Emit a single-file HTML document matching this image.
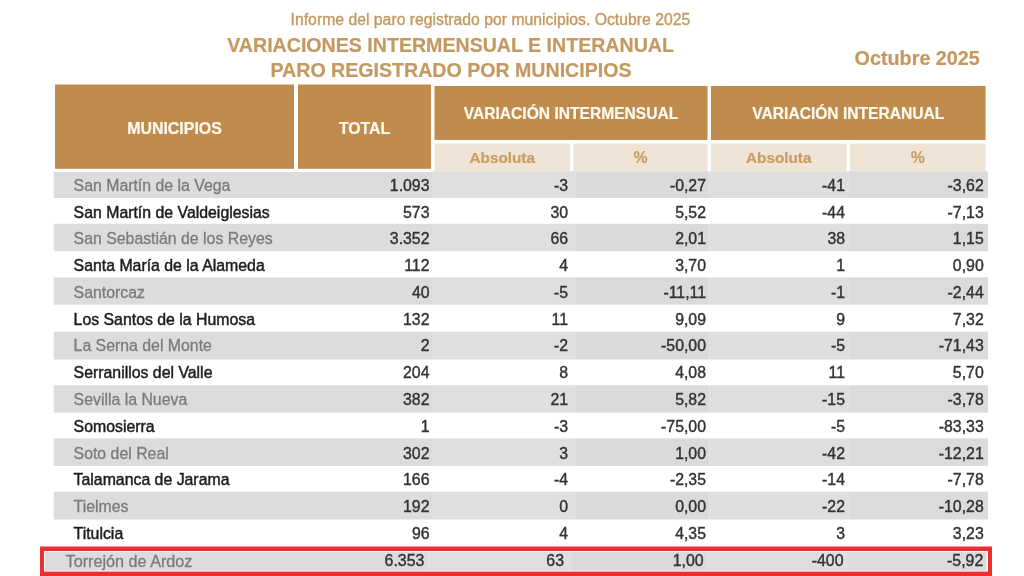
<!DOCTYPE html>
<html><head><meta charset="utf-8"><title>Paro registrado</title>
<style>
html,body{margin:0;padding:0;background:#fff;}
body{width:1024px;height:576px;position:relative;overflow:hidden;font-family:"Liberation Sans",sans-serif;}
.a{position:absolute;white-space:nowrap;}
.b{position:absolute;}
.h{color:#fffaf0;-webkit-text-stroke:0.2px #fffaf0;font-weight:bold;font-size:15.6px;text-align:center;}
.s{color:#c99c66;-webkit-text-stroke:0.2px #c99c66;font-weight:bold;font-size:15.3px;text-align:center;}
.t{color:#c4985f;-webkit-text-stroke:0.2px #c4985f;font-weight:bold;font-size:19.6px;text-align:center;line-height:25px;}
.n{font-size:15.85px;line-height:20px;height:20px;}
.r{text-align:right;color:#333;-webkit-text-stroke:0.4px #333;}
.g{color:#7b7b7b;-webkit-text-stroke:0.3px #7b7b7b;}
.k{color:#1c1c1c;-webkit-text-stroke:0.45px #1c1c1c;}
</style></head><body><div id="w" style="position:absolute;left:0;top:0;width:1024px;height:600px;filter:blur(0.45px);">

<svg class="b" style="left:0;top:0" width="1024" height="600" viewBox="0 0 1024 600"><rect x="55" y="84.5" width="239" height="84.3" fill="#c08c4d"/><rect x="298" y="84.5" width="133" height="84.3" fill="#c08c4d"/><rect x="434.5" y="86" width="273" height="54" fill="#c08c4d"/><rect x="711" y="86" width="274.6" height="54" fill="#c08c4d"/><rect x="434.5" y="143.6" width="135.5" height="27.7" fill="#f0e4d6"/><rect x="573.5" y="143.6" width="134" height="27.7" fill="#f0e4d6"/><rect x="711" y="143.6" width="135.5" height="27.7" fill="#f0e4d6"/><rect x="850" y="143.6" width="135.6" height="27.7" fill="#f0e4d6"/><rect x="53.8" y="171.9" width="378.2" height="26.1" fill="#dcdcdc"/><rect x="432" y="171.3" width="143.3" height="26.7" fill="#dfdfdf"/><rect x="575.3" y="171.3" width="134.3" height="26.7" fill="#dadada"/><rect x="709.6" y="171.3" width="138.6" height="26.7" fill="#dedede"/><rect x="848.2" y="171.3" width="139.8" height="26.7" fill="#dbdbdb"/><rect x="53.8" y="223.8" width="378.2" height="27.4" fill="#dcdcdc"/><rect x="432" y="223.8" width="143.3" height="27.4" fill="#dfdfdf"/><rect x="575.3" y="223.8" width="134.3" height="27.4" fill="#dadada"/><rect x="709.6" y="223.8" width="138.6" height="27.4" fill="#dedede"/><rect x="848.2" y="223.8" width="139.8" height="27.4" fill="#dbdbdb"/><rect x="53.8" y="277.3" width="378.2" height="27.4" fill="#dcdcdc"/><rect x="432" y="277.3" width="143.3" height="27.4" fill="#dfdfdf"/><rect x="575.3" y="277.3" width="134.3" height="27.4" fill="#dadada"/><rect x="709.6" y="277.3" width="138.6" height="27.4" fill="#dedede"/><rect x="848.2" y="277.3" width="139.8" height="27.4" fill="#dbdbdb"/><rect x="53.8" y="331.7" width="378.2" height="27.8" fill="#dcdcdc"/><rect x="432" y="331.7" width="143.3" height="27.8" fill="#dfdfdf"/><rect x="575.3" y="331.7" width="134.3" height="27.8" fill="#dadada"/><rect x="709.6" y="331.7" width="138.6" height="27.8" fill="#dedede"/><rect x="848.2" y="331.7" width="139.8" height="27.8" fill="#dbdbdb"/><rect x="53.8" y="385.3" width="378.2" height="27.4" fill="#dcdcdc"/><rect x="432" y="385.3" width="143.3" height="27.4" fill="#dfdfdf"/><rect x="575.3" y="385.3" width="134.3" height="27.4" fill="#dadada"/><rect x="709.6" y="385.3" width="138.6" height="27.4" fill="#dedede"/><rect x="848.2" y="385.3" width="139.8" height="27.4" fill="#dbdbdb"/><rect x="53.8" y="438.4" width="378.2" height="27.6" fill="#dcdcdc"/><rect x="432" y="438.4" width="143.3" height="27.6" fill="#dfdfdf"/><rect x="575.3" y="438.4" width="134.3" height="27.6" fill="#dadada"/><rect x="709.6" y="438.4" width="138.6" height="27.6" fill="#dedede"/><rect x="848.2" y="438.4" width="139.8" height="27.6" fill="#dbdbdb"/><rect x="53.8" y="491.7" width="378.2" height="27.8" fill="#dcdcdc"/><rect x="432" y="491.7" width="143.3" height="27.8" fill="#dfdfdf"/><rect x="575.3" y="491.7" width="134.3" height="27.8" fill="#dadada"/><rect x="709.6" y="491.7" width="138.6" height="27.8" fill="#dedede"/><rect x="848.2" y="491.7" width="139.8" height="27.8" fill="#dbdbdb"/><rect x="40" y="546.5" width="952" height="33.5" fill="#ee2e2e"/><rect x="44" y="551" width="944" height="20.6" fill="#fff"/><rect x="45" y="552" width="383.5" height="18.7" fill="#dcdcdc"/><rect x="428.5" y="552" width="143.5" height="18.7" fill="#dfdfdf"/><rect x="572" y="552" width="135.5" height="18.7" fill="#dadada"/><rect x="707.5" y="552" width="139" height="18.7" fill="#dedede"/><rect x="846.5" y="552" width="140" height="18.7" fill="#dbdbdb"/></svg>
<div class="a" style="left:0;width:980.8px;top:10.6px;text-align:center;font-size:15.77px;color:#c4985f;-webkit-text-stroke:0.35px #c4985f;line-height:18px;">Informe del paro registrado por municipios. Octubre 2025</div>
<div class="a t" style="left:0;width:901.2px;top:32.5px;">VARIACIONES INTERMENSUAL E INTERANUAL</div>
<div class="a t" style="left:0;width:902px;top:57.8px;">PARO REGISTRADO POR MUNICIPIOS</div>
<div class="a t" style="left:854.6px;top:45.6px;text-align:left;font-size:19.78px;">Octubre 2025</div>
<div class="a h" style="left:55px;width:239px;top:118.6px;line-height:20px;"><span style="font-size:15.95px">MUNICIPIOS</span></div>
<div class="a h" style="left:298px;width:133px;top:118.7px;line-height:20px;"><span style="font-size:15.8px">TOTAL</span></div>
<div class="a h" style="left:434.5px;width:273px;top:103.6px;line-height:20px;">VARIACIÓN INTERMENSUAL</div>
<div class="a h" style="left:711px;width:274.6px;top:103.6px;line-height:20px;">VARIACIÓN INTERANUAL</div>
<div class="a s" style="left:434.5px;width:135.5px;top:147.6px;line-height:20px;">Absoluta</div>
<div class="a s" style="left:573.5px;width:134px;top:147.6px;line-height:20px;"><span style="font-size:15.8px">%</span></div>
<div class="a s" style="left:711px;width:135.5px;top:147.6px;line-height:20px;">Absoluta</div>
<div class="a s" style="left:850px;width:135.6px;top:147.6px;line-height:20px;"><span style="font-size:15.8px">%</span></div>
<div class="a n g" style="left:73.6px;top:175.9px;">San Martín de la Vega</div>
<div class="a n r" style="right:594.5px;top:175.9px;">1.093</div>
<div class="a n r" style="right:456px;top:175.9px;">-3</div>
<div class="a n r" style="right:318px;top:175.9px;">-0,27</div>
<div class="a n r" style="right:179px;top:175.9px;">-41</div>
<div class="a n r" style="right:40.3px;top:175.9px;">-3,62</div>
<div class="a n k" style="left:73.6px;top:202.66px;">San Martín de Valdeiglesias</div>
<div class="a n r" style="right:594.5px;top:202.66px;">573</div>
<div class="a n r" style="right:456px;top:202.66px;">30</div>
<div class="a n r" style="right:318px;top:202.66px;">5,52</div>
<div class="a n r" style="right:179px;top:202.66px;">-44</div>
<div class="a n r" style="right:40.3px;top:202.66px;">-7,13</div>
<div class="a n g" style="left:73.6px;top:229.42px;">San Sebastián de los Reyes</div>
<div class="a n r" style="right:594.5px;top:229.42px;">3.352</div>
<div class="a n r" style="right:456px;top:229.42px;">66</div>
<div class="a n r" style="right:318px;top:229.42px;">2,01</div>
<div class="a n r" style="right:179px;top:229.42px;">38</div>
<div class="a n r" style="right:40.3px;top:229.42px;">1,15</div>
<div class="a n k" style="left:73.6px;top:256.18px;">Santa María de la Alameda</div>
<div class="a n r" style="right:594.5px;top:256.18px;">112</div>
<div class="a n r" style="right:456px;top:256.18px;">4</div>
<div class="a n r" style="right:318px;top:256.18px;">3,70</div>
<div class="a n r" style="right:179px;top:256.18px;">1</div>
<div class="a n r" style="right:40.3px;top:256.18px;">0,90</div>
<div class="a n g" style="left:73.6px;top:282.94px;">Santorcaz</div>
<div class="a n r" style="right:594.5px;top:282.94px;">40</div>
<div class="a n r" style="right:456px;top:282.94px;">-5</div>
<div class="a n r" style="right:318px;top:282.94px;">-11,11</div>
<div class="a n r" style="right:179px;top:282.94px;">-1</div>
<div class="a n r" style="right:40.3px;top:282.94px;">-2,44</div>
<div class="a n k" style="left:73.6px;top:309.7px;">Los Santos de la Humosa</div>
<div class="a n r" style="right:594.5px;top:309.7px;">132</div>
<div class="a n r" style="right:456px;top:309.7px;">11</div>
<div class="a n r" style="right:318px;top:309.7px;">9,09</div>
<div class="a n r" style="right:179px;top:309.7px;">9</div>
<div class="a n r" style="right:40.3px;top:309.7px;">7,32</div>
<div class="a n g" style="left:73.6px;top:336.46px;">La Serna del Monte</div>
<div class="a n r" style="right:594.5px;top:336.46px;">2</div>
<div class="a n r" style="right:456px;top:336.46px;">-2</div>
<div class="a n r" style="right:318px;top:336.46px;">-50,00</div>
<div class="a n r" style="right:179px;top:336.46px;">-5</div>
<div class="a n r" style="right:40.3px;top:336.46px;">-71,43</div>
<div class="a n k" style="left:73.6px;top:363.22px;">Serranillos del Valle</div>
<div class="a n r" style="right:594.5px;top:363.22px;">204</div>
<div class="a n r" style="right:456px;top:363.22px;">8</div>
<div class="a n r" style="right:318px;top:363.22px;">4,08</div>
<div class="a n r" style="right:179px;top:363.22px;">11</div>
<div class="a n r" style="right:40.3px;top:363.22px;">5,70</div>
<div class="a n g" style="left:73.6px;top:389.98px;">Sevilla la Nueva</div>
<div class="a n r" style="right:594.5px;top:389.98px;">382</div>
<div class="a n r" style="right:456px;top:389.98px;">21</div>
<div class="a n r" style="right:318px;top:389.98px;">5,82</div>
<div class="a n r" style="right:179px;top:389.98px;">-15</div>
<div class="a n r" style="right:40.3px;top:389.98px;">-3,78</div>
<div class="a n k" style="left:73.6px;top:416.74px;">Somosierra</div>
<div class="a n r" style="right:594.5px;top:416.74px;">1</div>
<div class="a n r" style="right:456px;top:416.74px;">-3</div>
<div class="a n r" style="right:318px;top:416.74px;">-75,00</div>
<div class="a n r" style="right:179px;top:416.74px;">-5</div>
<div class="a n r" style="right:40.3px;top:416.74px;">-83,33</div>
<div class="a n g" style="left:73.6px;top:443.5px;">Soto del Real</div>
<div class="a n r" style="right:594.5px;top:443.5px;">302</div>
<div class="a n r" style="right:456px;top:443.5px;">3</div>
<div class="a n r" style="right:318px;top:443.5px;">1,00</div>
<div class="a n r" style="right:179px;top:443.5px;">-42</div>
<div class="a n r" style="right:40.3px;top:443.5px;">-12,21</div>
<div class="a n k" style="left:73.6px;top:470.26px;">Talamanca de Jarama</div>
<div class="a n r" style="right:594.5px;top:470.26px;">166</div>
<div class="a n r" style="right:456px;top:470.26px;">-4</div>
<div class="a n r" style="right:318px;top:470.26px;">-2,35</div>
<div class="a n r" style="right:179px;top:470.26px;">-14</div>
<div class="a n r" style="right:40.3px;top:470.26px;">-7,78</div>
<div class="a n g" style="left:73.6px;top:497.02px;">Tielmes</div>
<div class="a n r" style="right:594.5px;top:497.02px;">192</div>
<div class="a n r" style="right:456px;top:497.02px;">0</div>
<div class="a n r" style="right:318px;top:497.02px;">0,00</div>
<div class="a n r" style="right:179px;top:497.02px;">-22</div>
<div class="a n r" style="right:40.3px;top:497.02px;">-10,28</div>
<div class="a n k" style="left:73.6px;top:523.78px;">Titulcia</div>
<div class="a n r" style="right:594.5px;top:523.78px;">96</div>
<div class="a n r" style="right:456px;top:523.78px;">4</div>
<div class="a n r" style="right:318px;top:523.78px;">4,35</div>
<div class="a n r" style="right:179px;top:523.78px;">3</div>
<div class="a n r" style="right:40.3px;top:523.78px;">3,23</div>
<div class="a n g" style="left:65.6px;top:550.9px;font-size:16.2px;">Torrejón de Ardoz</div>
<div class="a n r" style="right:599.7px;top:550.9px;font-size:15.9px;">6.353</div>
<div class="a n r" style="right:460px;top:550.9px;font-size:15.9px;">63</div>
<div class="a n r" style="right:320.4px;top:550.9px;font-size:15.9px;">1,00</div>
<div class="a n r" style="right:180.5px;top:550.9px;font-size:15.9px;">-400</div>
<div class="a n r" style="right:40.7px;top:550.9px;font-size:15.9px;">-5,92</div>
</div></body></html>
